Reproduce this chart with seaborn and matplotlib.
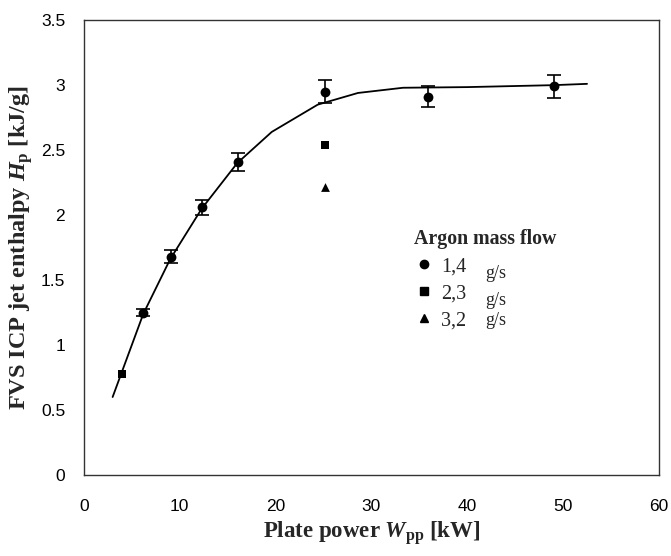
import pandas as pd
import seaborn as sns
import matplotlib.pyplot as plt
from matplotlib.lines import Line2D
from matplotlib.transforms import IdentityTransform

# measured points, argon 1,4 g/s (with error bars)
x_14 = [6.2, 9.1, 12.3, 16.1, 25.2, 35.9, 49.1]
y_14 = [1.25, 1.68, 2.06, 2.41, 2.95, 2.91, 2.99]
err_14 = [0.03, 0.05, 0.06, 0.07, 0.09, 0.08, 0.085]

# argon 2,3 g/s
x_23 = [4.0, 25.2]
y_23 = [0.78, 2.54]

# argon 3,2 g/s
x_32 = [25.2]
y_32 = [2.22]

# fitted curve
x_fit = [3.0, 4.0, 6.2, 9.0, 12.3, 16.0, 19.6, 24.4, 28.6, 33.3, 40.0, 49.0, 52.5]
y_fit = [0.6, 0.80, 1.24, 1.66, 2.05, 2.40, 2.64, 2.85, 2.94, 2.98, 2.985, 3.0, 3.01]

flows = ['1,4', '2,3', '3,2']

sns.set_style('white')
plt.rcParams['font.family'] = ['Liberation Sans', 'DejaVu Sans']
plt.rcParams['mathtext.fontset'] = 'custom'
plt.rcParams['mathtext.rm'] = 'Liberation Serif:bold'
plt.rcParams['mathtext.it'] = 'Liberation Serif:bold:italic'

pts = pd.DataFrame({
    'W': x_14 + x_23 + x_32,
    'H': y_14 + y_23 + y_32,
    'flow': ['1,4'] * len(x_14) + ['2,3'] * len(x_23) + ['3,2'] * len(x_32),
})
fit = pd.DataFrame({'W': x_fit, 'H': y_fit})

fig = plt.figure(figsize=(6.71, 5.56), dpi=100)
ax = fig.add_axes([0.125, 0.1457, 0.857, 0.818])

sns.lineplot(data=fit, x='W', y='H', ax=ax, color='black', lw=1.3, sort=False)
ax.errorbar(x_14, y_14, yerr=err_14, fmt='none', ecolor='black', elinewidth=1.2, capsize=5, capthick=1.2)
markers = {'1,4': 'o', '2,3': 's', '3,2': '^'}
sizes = {'1,4': 50, '2,3': 36, '3,2': 40}
for flow, grp in pts.groupby('flow'):
    sns.scatterplot(data=grp, x='W', y='H', ax=ax, marker=markers[flow], s=sizes[flow],
                    color='black', edgecolor='black', linewidth=0, legend=False)

ax.set_xlim(0, 60)
ax.set_ylim(0, 3.5)
ax.set_xticks(range(0, 61, 10))
ax.set_yticks([0, 0.5, 1, 1.5, 2, 2.5, 3, 3.5])
ax.set_yticklabels(['0', '0.5', '1', '1.5', '2', '2.5', '3', '3.5'])
ax.tick_params(direction='inout', length=8, width=0.8, labelsize=12.5, colors='black')
ax.tick_params(axis='x', pad=13)
ax.tick_params(axis='y', pad=9.5)
for sp in ax.spines.values():
    sp.set_color('#333333')
    sp.set_linewidth(1.0)

ax.set_xlabel(r'Plate power $W_\mathregular{pp}$ [kW]',
              fontdict={'family': 'Liberation Serif', 'weight': 'bold', 'size': 16.5}, labelpad=4)
ax.set_ylabel(r'FVS ICP jet enthalpy $H_\mathregular{p}$ [kJ/g]',
              fontdict={'family': 'Liberation Serif', 'weight': 'bold', 'size': 17.5}, labelpad=4)

handles = [Line2D([], [], ls='none', marker=markers[k], color='black', markersize=ms)
           for k, ms in zip(flows, [6, 5.5, 6])]
leg = ax.legend(handles, flows, title='Argon mass flow', frameon=False,
                loc='upper left', bbox_to_anchor=(0.55, 0.572), handletextpad=0.35,
                handlelength=1.0, labelspacing=0.4, borderpad=0.2,
                prop={'family': 'Liberation Serif', 'size': 14.5})
leg.get_title().set_fontproperties({'family': 'Liberation Serif', 'weight': 'bold', 'size': 14.3})
leg._legend_box.align = 'left'

# the unit sits after each label, lowered for the first two rows as in the source
fig.canvas.draw()
boxes = [t.get_window_extent() for t in leg.get_texts()]
gx = max(b.x1 for b in boxes) + 19
for b, drop in zip(boxes, [7, 7, 0]):
    fig.text(gx, (b.y0 + b.y1) / 2 - drop, 'g/s', transform=IdentityTransform(),
             va='center', ha='left', family='Liberation Serif', size=13)

fig.savefig('out.png', dpi=100)
